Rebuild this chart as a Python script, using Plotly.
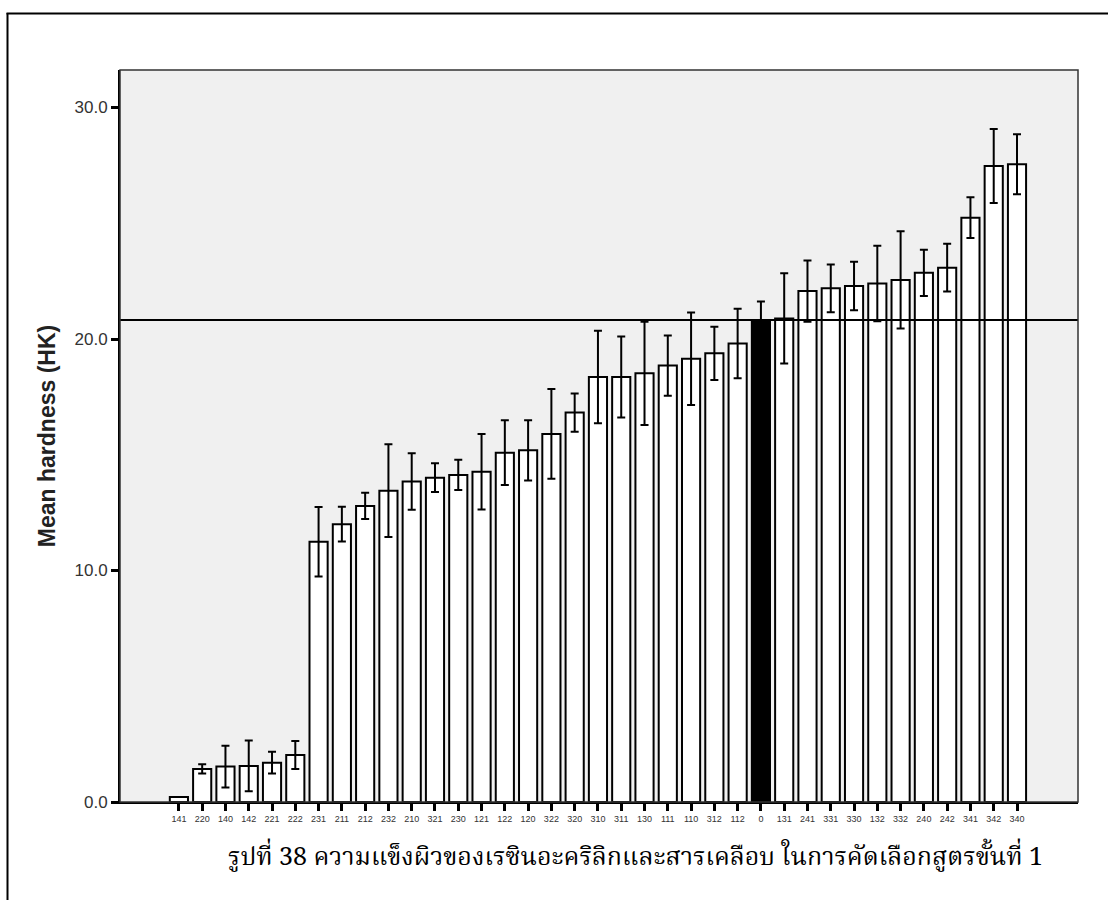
import plotly.graph_objects as go

categories = ["141", "220", "140", "142", "221", "222", "231", "211", "212", "232",
              "210", "321", "230", "121", "122", "120", "322", "320", "310", "311",
              "130", "111", "110", "312", "112", "0", "131", "241", "331", "330",
              "132", "332", "240", "242", "341", "342", "340"]
mean_hardness = [0.22, 1.43, 1.53, 1.56, 1.70, 2.03, 11.24, 12.0, 12.79, 13.45,
                 13.84, 14.01, 14.13, 14.27, 15.09, 15.19, 15.9, 16.82, 18.36, 18.36,
                 18.52, 18.85, 19.15, 19.38, 19.81, 20.82, 20.89, 22.07, 22.19, 22.29,
                 22.4, 22.55, 22.86, 23.08, 25.24, 27.47, 27.55]
error_hk = [0.0, 0.2, 0.9, 1.1, 0.47, 0.6, 1.5, 0.75, 0.57, 2.0,
            1.22, 0.62, 0.65, 1.63, 1.4, 1.3, 1.94, 0.83, 2.0, 1.75,
            2.23, 1.3, 2.0, 1.15, 1.5, 0.8, 1.95, 1.32, 1.03, 1.05,
            1.63, 2.1, 1.0, 1.03, 0.88, 1.6, 1.3]
control_category = "0"
reference_value = 20.82
y_tick_values = [0, 10, 20, 30]
caption = "รูปที่ 38 ความแข็งผิวของเรซินอะคริลิกและสารเคลือบ ในการคัดเลือกสูตรขั้นที่ 1"

W, H = 1108, 900
ML, MR, MT, MB = 120, 30, 70, 98
PW, PH = W - ML - MR, H - MT - MB


def px_x(px):
    return (px - ML) / PW


def px_y(py):
    return (H - MB - py) / PH


fill_colors = ["black" if c == control_category else "white" for c in categories]

fig = go.Figure()
fig.add_trace(go.Bar(
    x=categories, y=mean_hardness,
    marker=dict(color=fill_colors, line=dict(color="black", width=2)),
    width=0.78,
    error_y=dict(type="data", array=error_hk, visible=True,
                 color="black", thickness=2, width=4),
    showlegend=False,
    hoverinfo="skip",
))

fig.add_shape(type="line", xref="paper", x0=0, x1=1, yref="y",
              y0=reference_value, y1=reference_value,
              line=dict(color="black", width=2), layer="above")

# plot frame
fig.add_shape(type="rect", xref="paper", yref="paper", x0=0, x1=1, y0=0, y1=1,
              line=dict(color="#333333", width=1.5), layer="above")

# outer figure border (left & top)
fig.add_shape(type="line", xref="paper", yref="paper",
              x0=px_x(7.5), x1=px_x(7.5), y0=px_y(900), y1=px_y(13),
              line=dict(color="black", width=2))
fig.add_shape(type="line", xref="paper", yref="paper",
              x0=px_x(6.5), x1=px_x(1108), y0=px_y(13.5), y1=px_y(13.5),
              line=dict(color="black", width=2))

fig.add_annotation(text=caption, xref="paper", yref="paper",
                   x=px_x(635), y=px_y(858), xanchor="center", yanchor="middle",
                   showarrow=False,
                   font=dict(family="Tlwg Typist, Noto Serif Thai, Loma, Garuda, serif",
                             size=25, color="black"))

fig.update_layout(
    width=W, height=H,
    margin=dict(l=ML, r=MR, t=MT, b=MB),
    paper_bgcolor="white",
    plot_bgcolor="#f0f0f0",
    font=dict(family="Arial, Liberation Sans, sans-serif"),
)
fig.update_xaxes(
    type="category", range=[-2.53, 38.62],
    showline=True, linecolor="black", linewidth=2,
    ticks="outside", ticklen=7, tickwidth=3, tickcolor="black",
    tickfont=dict(size=9, color="#333333"),
    showgrid=False, zeroline=False, tickangle=0,
)
fig.update_yaxes(
    range=[0, 31.62],
    tickvals=y_tick_values, tickformat=".1f",
    showline=True, linecolor="black", linewidth=2,
    ticks="outside", ticklen=7, tickwidth=3, tickcolor="black",
    tickfont=dict(size=17, color="#333333"),
    showgrid=False, zeroline=False,
    title=dict(text="<b>Mean hardness (HK)</b>", font=dict(size=23, color="#222222"),
               standoff=12),
)

fig.write_html("out.html", config={"displayModeBar": False},
               post_script="document.body.style.margin='0';")
